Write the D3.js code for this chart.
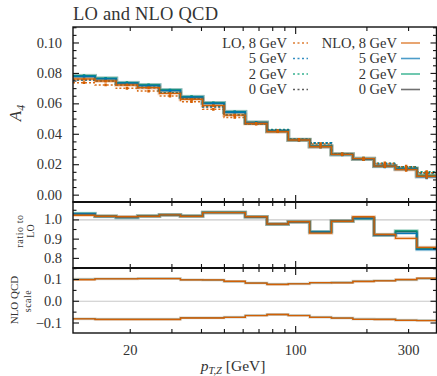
<!DOCTYPE html>
<html><head><meta charset="utf-8">
<script src="https://cdn.jsdelivr.net/npm/d3@7"></script>
<style>body{margin:0;background:#fff}svg{display:block}text{font-family:"Liberation Serif","DejaVu Serif",serif;fill:#333}</style>
</head><body>
<svg id="c" width="437" height="376"></svg>
<script>
// ---------- data ----------
const binEdges = [11.46,14.2,17.45,21.5,26.58,32.6,40.45,49.83,61.28,75.65,93.06,114.6,141.6,174.5,214.5,264.2,324.9,393.6];
const seriesNames = ["8 GeV","5 GeV","2 GeV","0 GeV"];
const colors = ["#D55E00","#0072B2","#009E73","#333333"];
// main panel: A4, NLO (solid) and LO (dotted)
const nlo8 = [0.0763,0.0750,0.0724,0.0706,0.0669,0.0630,0.0588,0.0526,0.0471,0.0417,0.0362,0.0318,0.0268,0.0240,0.0191,0.0168,0.0124];
const nlo5 = [0.0780,0.0764,0.0735,0.0720,0.0687,0.0643,0.0603,0.0545,0.0476,0.0420,0.0363,0.0320,0.0267,0.0237,0.0190,0.0172,0.0121];
const nlo2 = [0.0785,0.0768,0.0739,0.0724,0.0691,0.0647,0.0606,0.0548,0.0478,0.0421,0.0364,0.0322,0.0268,0.0240,0.0192,0.0176,0.0130];
const nlo0 = [0.0783,0.0766,0.0737,0.0722,0.0689,0.0645,0.0605,0.0547,0.0477,0.0421,0.0364,0.0321,0.0268,0.0239,0.0191,0.0174,0.0127];
const lo8  = [0.0739,0.0724,0.0702,0.0684,0.0651,0.0614,0.0564,0.0511,0.0466,0.0424,0.0365,0.0336,0.0270,0.0236,0.0208,0.0186,0.0147];
const lo5  = [0.0756,0.0749,0.0724,0.0706,0.0670,0.0630,0.0580,0.0525,0.0469,0.0430,0.0367,0.0342,0.0269,0.0236,0.0207,0.0185,0.0143];
const lo2  = [0.0760,0.0752,0.0727,0.0709,0.0673,0.0633,0.0583,0.0528,0.0471,0.0431,0.0368,0.0343,0.0270,0.0238,0.0209,0.0187,0.0153];
const lo0  = [0.0759,0.0751,0.0726,0.0708,0.0672,0.0632,0.0582,0.0527,0.0470,0.0430,0.0368,0.0342,0.0270,0.0237,0.0208,0.0186,0.0149];
const err  = [0.0009,0.0009,0.0009,0.0009,0.0009,0.0009,0.0009,0.0009,0.0009,0.0009,0.0010,0.0011,0.0011,0.0012,0.0013,0.0014,0.0016];
// ratio NLO / LO
const ratio8 = [1.024,1.019,1.016,1.019,1.026,1.019,1.038,1.038,1.016,0.979,0.990,0.931,0.993,1.016,0.924,0.904,0.857];
const ratio5 = [1.032,1.018,1.012,1.019,1.026,1.019,1.038,1.038,1.015,0.978,0.989,0.937,0.993,1.008,0.920,0.930,0.846];
const ratio2 = [1.033,1.019,1.013,1.020,1.027,1.020,1.039,1.039,1.016,0.978,0.990,0.938,0.993,1.007,0.921,0.943,0.851];
const ratio0 = [1.031,1.019,1.014,1.020,1.027,1.020,1.039,1.039,1.016,0.979,0.990,0.938,0.994,1.009,0.922,0.940,0.852];
// NLO QCD scale variation (relative)
const scaleUp8   = [0.099,0.103,0.103,0.104,0.104,0.098,0.098,0.092,0.083,0.077,0.080,0.086,0.085,0.091,0.094,0.100,0.106];
const scaleUp0   = [0.101,0.104,0.104,0.105,0.105,0.099,0.098,0.091,0.084,0.078,0.081,0.085,0.086,0.092,0.095,0.099,0.105];
const scaleDown8 = [-0.081,-0.084,-0.084,-0.084,-0.084,-0.077,-0.077,-0.074,-0.066,-0.061,-0.066,-0.074,-0.078,-0.083,-0.084,-0.088,-0.089];
const scaleDown0 = [-0.080,-0.083,-0.083,-0.083,-0.083,-0.076,-0.076,-0.073,-0.065,-0.061,-0.065,-0.073,-0.077,-0.082,-0.083,-0.087,-0.088];
const yTicksMain = [0.00,0.02,0.04,0.06,0.08,0.10];
const yTicksRatio = [0.8,0.9,1.0];
const yTicksScale = [-0.1,0.0,0.1];
const xTickLabels = [20,100,300];

// ---------- layout ----------
const svg = d3.select("#c");
const L = 73, R = 436.5;
const x = d3.scaleLog().domain([binEdges[0], binEdges[binEdges.length-1]]).range([L, R]);
const yMain = d3.scaleLinear().domain([-0.0045, 0.1105]).range([202, 27]);
const yRat = d3.scaleLinear().domain([0.75, 1.093]).range([268, 202]);
const ySc = d3.scaleLinear().domain([-0.146, 0.153]).range([333, 268]);

const defs = svg.append("defs");
function clip(id, y) {
  defs.append("clipPath").attr("id", id).append("rect")
    .attr("x", L).attr("y", y.range()[1]).attr("width", R - L).attr("height", y.range()[0] - y.range()[1]);
}
clip("cm", yMain); clip("cr", yRat); clip("cs", ySc);

function stepPts(vals) {
  const p = vals.map((v, i) => [binEdges[i], v]);
  p.push([binEdges[vals.length], vals[vals.length - 1]]);
  return p;
}
function drawStep(g, y, vals, color, opts) {
  const line = d3.line().x(d => x(d[0])).y(d => y(d[1])).curve(d3.curveStepAfter);
  const pts = stepPts(vals);
  if (opts.band) {
    g.append("path").attr("d", line(pts)).attr("fill", "none").attr("stroke", color)
      .attr("stroke-opacity", 0.22).attr("stroke-width", opts.band);
  }
  g.append("path").attr("d", line(pts)).attr("fill", "none").attr("stroke", color)
    .attr("stroke-width", opts.w || 1.4).attr("stroke-opacity", opts.op || 1)
    .attr("stroke-dasharray", opts.dash || null);
}

// ---------- main panel ----------
const gm = svg.append("g").attr("clip-path", "url(#cm)");
const loSets = [lo8, lo5, lo2, lo0];
const nloSets = [nlo8, nlo5, nlo2, nlo0];
[3, 2, 1, 0].forEach(i => drawStep(gm, yMain, loSets[i], colors[i], {w: 1.5, dash: "2,2", op: 0.9}));
[3, 2, 1, 0].forEach(i => drawStep(gm, yMain, nloSets[i], colors[i], {w: 1.4, band: 4, op: 0.95}));
function errBars(g, vals, color, w) {
  vals.forEach((v, i) => {
    const xc = x(Math.sqrt(binEdges[i] * binEdges[i + 1]));
    g.append("line").attr("x1", xc).attr("x2", xc)
      .attr("y1", yMain(v - err[i])).attr("y2", yMain(v + err[i]))
      .attr("stroke", color).attr("stroke-width", w);
  });
}
errBars(gm, nlo2, colors[2], 2.5);
errBars(gm, nlo5, colors[1], 2.5);
errBars(gm, lo8, colors[0], 2.5);
errBars(gm, nlo8, colors[0], 2.5);

// ---------- ratio panel ----------
const gr = svg.append("g").attr("clip-path", "url(#cr)");
gr.append("line").attr("x1", L).attr("x2", R).attr("y1", yRat(1)).attr("y2", yRat(1)).attr("stroke", "#c8c8c8").attr("stroke-width", 1.2);
const ratSets = [ratio8, ratio5, ratio2, ratio0];
[3, 2, 1, 0].forEach(i => drawStep(gr, yRat, ratSets[i], colors[i], {w: 1.4, band: 3.5, op: 0.95}));

// ---------- scale panel ----------
const gs = svg.append("g").attr("clip-path", "url(#cs)");
gs.append("line").attr("x1", L).attr("x2", R).attr("y1", ySc(0)).attr("y2", ySc(0)).attr("stroke", "#c8c8c8").attr("stroke-width", 1.2);
drawStep(gs, ySc, scaleUp0, "#6b6b4a", {w: 1.4, band: 3, op: 0.8});
drawStep(gs, ySc, scaleDown0, "#6b6b4a", {w: 1.4, band: 3, op: 0.8});
drawStep(gs, ySc, scaleUp8, colors[0], {w: 1.3, op: 0.95});
drawStep(gs, ySc, scaleDown8, colors[0], {w: 1.3, op: 0.95});

// ---------- axes ----------
const axG = svg.append("g").attr("stroke", "#111");
const xMinor = [20,30,40,50,60,70,80,90,200,300];
const xMajor = [100];
function xTicks(yEdge, dir) {
  xMinor.forEach(v => axG.append("line").attr("x1", x(v)).attr("x2", x(v)).attr("y1", yEdge).attr("y2", yEdge + dir * 4).attr("stroke-width", 1.1));
  xMajor.forEach(v => axG.append("line").attr("x1", x(v)).attr("x2", x(v)).attr("y1", yEdge).attr("y2", yEdge + dir * 7).attr("stroke-width", 1.1));
}
xTicks(27, 1); xTicks(202, -1); xTicks(202, 1); xTicks(268, -1); xTicks(268, 1); xTicks(333, -1);

function yTicks(y, major, minorStep) {
  const [lo, hi] = y.domain();
  const minor = d3.range(Math.ceil(lo / minorStep - 1e-9), Math.floor(hi / minorStep + 1e-9) + 1).map(k => +(k * minorStep).toFixed(6));
  minor.forEach(v => {
    const isMaj = major.some(m => Math.abs(m - v) < 1e-6);
    const len = isMaj ? 6 : 3.5;
    const yy = y(v);
    axG.append("line").attr("x1", L).attr("x2", L + len).attr("y1", yy).attr("y2", yy).attr("stroke-width", 1.1);
    axG.append("line").attr("x1", R).attr("x2", R - len).attr("y1", yy).attr("y2", yy).attr("stroke-width", 1.1);
  });
  major.forEach(v => {
    svg.append("text").attr("x", 62).attr("y", y(v) + 4.6).attr("text-anchor", "end")
      .attr("font-size", 14.5).text(y === yMain ? d3.format(".2f")(v) : d3.format(".1f")(v));
  });
}
yTicks(yMain, yTicksMain, 0.005);
yTicks(yRat, yTicksRatio, 0.05);
yTicks(ySc, yTicksScale, 0.05);

function frame(y, sw) {
  svg.append("rect").attr("x", L).attr("y", y.range()[1]).attr("width", R - L).attr("height", y.range()[0] - y.range()[1])
    .attr("fill", "none").attr("stroke", "#111").attr("stroke-width", sw);
}
frame(yMain, 1.4); frame(yRat, 1.4); frame(ySc, 1.4);
svg.append("line").attr("x1", L).attr("x2", R).attr("y1", 202).attr("y2", 202).attr("stroke", "#111").attr("stroke-width", 2.2);
svg.append("line").attr("x1", L).attr("x2", R).attr("y1", 268).attr("y2", 268).attr("stroke", "#111").attr("stroke-width", 2.2);

xTickLabels.forEach(v => svg.append("text").attr("x", x(v)).attr("y", 355).attr("text-anchor", "middle").attr("font-size", 14.5).text(v));

const xl = svg.append("text").attr("x", 233).attr("y", 371).attr("text-anchor", "middle").attr("font-size", 15.5);
xl.append("tspan").attr("font-style", "italic").text("p");
xl.append("tspan").attr("font-style", "italic").attr("font-size", 10.5).attr("dy", 3).text("T,Z");
xl.append("tspan").attr("dy", -3).text(" [GeV]");

const yl = svg.append("text").attr("transform", "translate(21,113) rotate(-90)").attr("text-anchor", "middle").attr("font-size", 17);
yl.append("tspan").attr("font-style", "italic").text("A");
yl.append("tspan").attr("font-style", "italic").attr("font-size", 12).attr("dy", 4).text("4");
svg.append("text").attr("transform", "translate(23,231) rotate(-90)").attr("text-anchor", "middle").attr("font-size", 10).attr("letter-spacing", 0.6).text("ratio to");
svg.append("text").attr("transform", "translate(34,231) rotate(-90)").attr("text-anchor", "middle").attr("font-size", 10).text("LO");
svg.append("text").attr("transform", "translate(18,300) rotate(-90)").attr("text-anchor", "middle").attr("font-size", 11).text("NLO QCD");
svg.append("text").attr("transform", "translate(31,301) rotate(-90)").attr("text-anchor", "middle").attr("font-size", 10).attr("letter-spacing", 0.5).text("scale");

svg.append("text").attr("x", 73).attr("y", 20).attr("font-size", 18.5).attr("textLength", 145).attr("lengthAdjust", "spacing").text("LO and NLO QCD");

const rowsY = [43, 58.5, 74, 89.5];
const loLab = ["LO, 8 GeV", "5 GeV", "2 GeV", "0 GeV"];
const nloLab = ["NLO, 8 GeV", "5 GeV", "2 GeV", "0 GeV"];
rowsY.forEach((ry, i) => {
  svg.append("text").attr("x", 287).attr("y", ry + 4.8).attr("text-anchor", "end").attr("font-size", 14.5).text(loLab[i]);
  svg.append("line").attr("x1", 293).attr("x2", 308).attr("y1", ry).attr("y2", ry).attr("stroke", colors[i]).attr("stroke-opacity", 0.8).attr("stroke-width", 1.5).attr("stroke-dasharray", "2,2.5");
  svg.append("text").attr("x", 397).attr("y", ry + 4.8).attr("text-anchor", "end").attr("font-size", 14.5).text(nloLab[i]);
  svg.append("line").attr("x1", 401).attr("x2", 420).attr("y1", ry).attr("y2", ry).attr("stroke", colors[i]).attr("stroke-opacity", 0.7).attr("stroke-width", 1.6);
});
</script>
</body></html>
